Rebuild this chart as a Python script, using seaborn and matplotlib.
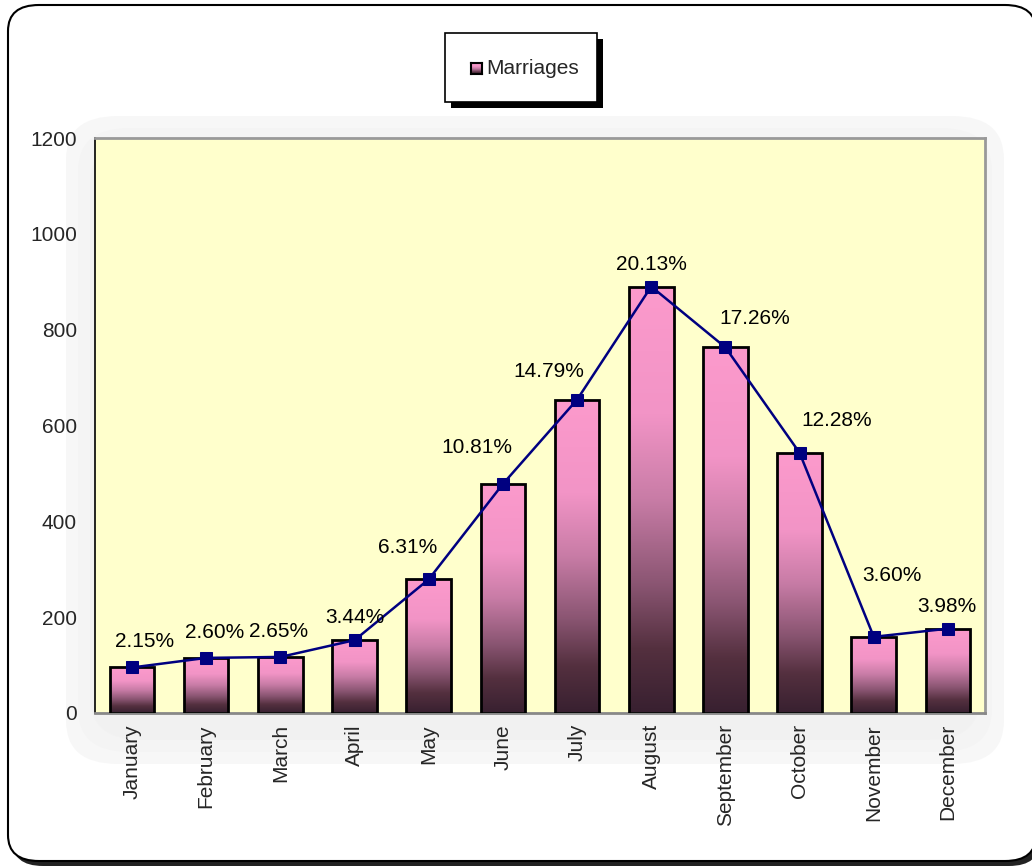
import numpy as np
import matplotlib
matplotlib.use("Agg")
import matplotlib.pyplot as plt
import seaborn as sns
from matplotlib.patches import FancyBboxPatch, Rectangle
from matplotlib.colors import LinearSegmentedColormap

# -----------------------------
# Data
# -----------------------------
months = ["January", "February", "March", "April", "May", "June",
          "July", "August", "September", "October", "November", "December"]
marriages = [95, 115, 117, 152, 279, 478, 654, 890, 763, 543, 159, 176]
pct_labels = ["2.15%", "2.60%", "2.65%", "3.44%", "6.31%", "10.81%",
              "14.79%", "20.13%", "17.26%", "12.28%", "3.60%", "3.98%"]
y_ticks = [0, 200, 400, 600, 800, 1000, 1200]

# label nudges in pixels (dx, dy) so they sit clear of the line
label_offsets = [(12, 26), (8, 25), (-2, 25), (0, 23), (-21, 32), (-26, 36),
                 (-28, 28), (0, 22), (29, 29), (37, 32), (18, 61), (-1, 22)]

sns.set_style("white")
plt.rcParams['font.family'] = ['Liberation Sans', 'DejaVu Sans']

W, H = 1032, 867
fig = plt.figure(figsize=(W / 100, H / 100), dpi=100)
fig.patch.set_facecolor("white")

# outer rounded frame with shadow
shadow = FancyBboxPatch((12 / W, 1 - 866 / H), (1040 - 12) / W, (866 - 10) / H,
                        boxstyle="round,pad=0,rounding_size=0.03",
                        transform=fig.transFigure, facecolor="#222222",
                        edgecolor="none", zorder=0)
frame = FancyBboxPatch((8 / W, 1 - 861 / H), (1036 - 8) / W, (861 - 5) / H,
                       boxstyle="round,pad=0,rounding_size=0.03",
                       transform=fig.transFigure, facecolor="white",
                       edgecolor="black", linewidth=1.5, zorder=0.1)
fig.patches.extend([shadow, frame])

# soft grey glow around the plot area
for k, a in enumerate([0.25, 0.35, 0.45]):
    d = 30 - k * 12
    glow = FancyBboxPatch(((60 + d) / W, 1 - (770 - d) / H), (950 - 2 * d) / W,
                          (660 - 2 * d) / H,
                          boxstyle="round,pad=0,rounding_size=0.05",
                          transform=fig.transFigure, facecolor="#eeeeee",
                          edgecolor="none", alpha=a, zorder=0.2 + k * 0.01)
    fig.patches.append(glow)

ax = fig.add_axes([95 / W, 1 - 713 / H, (985 - 95) / W, (713 - 138) / H])
ax.set_zorder(1)
ax.set_facecolor("#FFFFCC")

sns.barplot(x=months, y=marriages, color="#F79BCB", edgecolor="black",
            linewidth=2, width=0.6, ax=ax)

# gradient fill inside each bar: pink at top to dark plum at bottom
cmap = LinearSegmentedColormap.from_list(
    "pinkfade", [(0.0, "#382030"), (0.15, "#54303F"), (0.3, "#8A5572"),
                 (0.5, "#C87CA6"), (0.7, "#F294C6"), (1.0, "#FC9ACC")])
grad = np.linspace(0, 1, 512).reshape(-1, 1)
for patch in list(ax.patches):
    x0, y0 = patch.get_x(), patch.get_y()
    w, h = patch.get_width(), patch.get_height()
    im = ax.imshow(grad, cmap=cmap, aspect="auto", origin="lower",
                   interpolation="bilinear",
                   extent=[x0, x0 + w, y0, y0 + h], zorder=2)
    im.set_clip_path(patch)
    patch.set_facecolor("none")
    patch.set_zorder(3)

xpos = np.arange(len(months))
sns.lineplot(x=xpos, y=marriages, color="#000080", linewidth=1.8, marker="s",
             markersize=9, markeredgecolor="#000080", ax=ax, zorder=5)

for i, (v, lab) in enumerate(zip(marriages, pct_labels)):
    dx, dy = label_offsets[i]
    ax.annotate(lab, (i, v), xytext=(dx, dy), textcoords="offset pixels",
                ha="center", va="center", fontsize=15, color="black", zorder=6)

ax.set_xlim(-0.5, len(months) - 0.5)
ax.set_ylim(0, 1200)
ax.set_yticks(y_ticks)
ax.set_yticklabels([str(t) for t in y_ticks], fontsize=15)
ax.set_xticks(xpos)
ax.set_xticklabels(months, rotation=90, fontsize=15, va="top")
ax.set_xlabel("")
ax.set_ylabel("")
ax.tick_params(axis="y", direction="out", length=6, width=1.2, color="black", pad=7)
ax.tick_params(axis="x", length=0, pad=8)

for side in ["top", "right"]:
    ax.spines[side].set_visible(True)
    ax.spines[side].set_color("#999999")
    ax.spines[side].set_linewidth(2)
ax.spines["bottom"].set_color("#888888")
ax.spines["bottom"].set_linewidth(2)
ax.spines["left"].set_color("black")
ax.spines["left"].set_linewidth(1.2)

# legend box with drop shadow
lx0, ly0, lx1, ly1 = 445, 33, 597, 102
fig.patches.append(Rectangle(((lx0 + 6) / W, 1 - (ly1 + 6) / H), (lx1 - lx0) / W,
                             (ly1 - ly0) / H, transform=fig.transFigure,
                             facecolor="black", edgecolor="none", zorder=2))
fig.patches.append(Rectangle((lx0 / W, 1 - ly1 / H), (lx1 - lx0) / W,
                             (ly1 - ly0) / H, transform=fig.transFigure,
                             facecolor="white", edgecolor="black", linewidth=1.2,
                             zorder=3))
mark = fig.add_axes([471 / W, 1 - 74 / H, 11 / W, 11 / H], zorder=4)
mark.imshow(grad, cmap=cmap, aspect="auto", origin="lower", extent=[0, 1, 0, 1])
mark.set_xticks([])
mark.set_yticks([])
for s in mark.spines.values():
    s.set_linewidth(1.5)
    s.set_color("black")
fig.text(486 / W, 1 - 68 / H, "Marriages", fontsize=15, ha="left", va="center",
         zorder=5)

fig.savefig("out.png", dpi=100)
plt.close(fig)
